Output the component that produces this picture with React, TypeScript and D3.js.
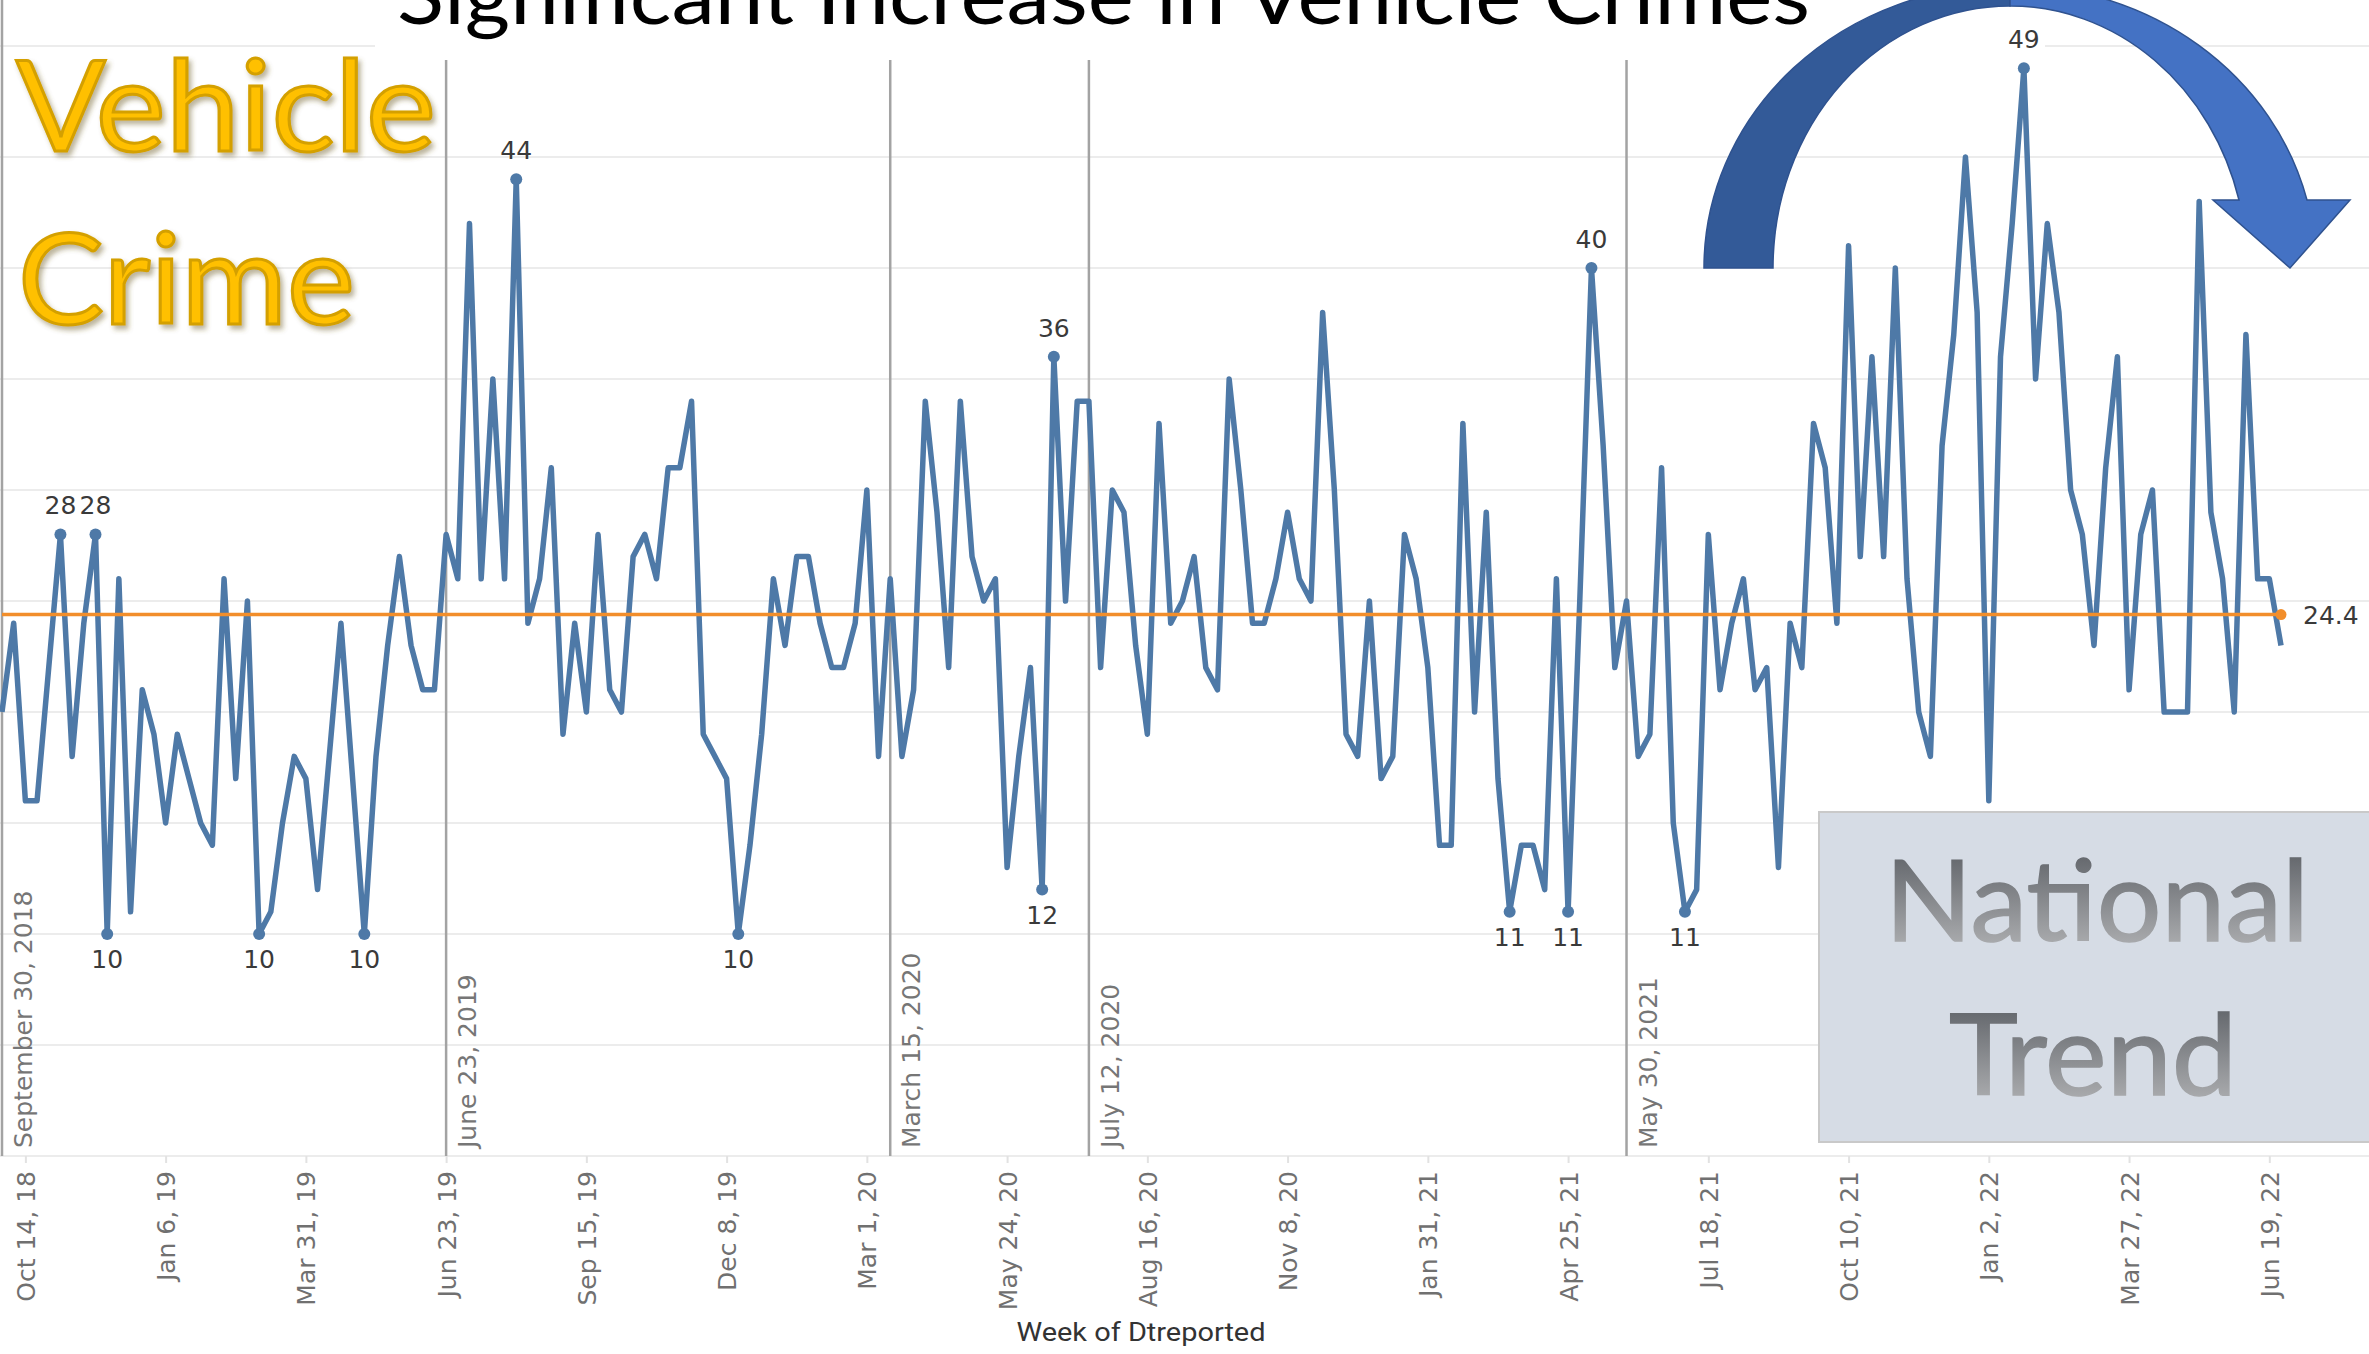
import React, { useRef, useEffect } from 'react';
import * as d3 from 'd3';

// weekly counts, first week = Sep 30 2018
const FIRST_WEEK = '2018-09-30';
const WEEKLY_COUNTS = [
  20, 24, 16, 16, 22, 28, 18, 24, 28, 10,
  26, 11, 21, 19, 15, 19, 17, 15, 14, 26,
  17, 25, 10, 11, 15, 18, 17, 12, 18, 24,
  17, 10, 18, 23, 27, 23, 21, 21, 28, 26,
  42, 26, 35, 26, 44, 24, 26, 31, 19, 24,
  20, 28, 21, 20, 27, 28, 26, 31, 31, 34,
  19, 18, 17, 10, 14, 19, 26, 23, 27, 27,
  24, 22, 22, 24, 30, 18, 26, 18, 21, 34,
  29, 22, 34, 27, 25, 26, 13, 18, 22, 12,
  36, 25, 34, 34, 22, 30, 29, 23, 19, 33,
  24, 25, 27, 22, 21, 35, 30, 24, 24, 26,
  29, 26, 25, 38, 30, 19, 18, 25, 17, 18,
  28, 26, 22, 14, 14, 33, 20, 29, 17, 11,
  14, 14, 12, 26, 11, 25, 40, 32, 22, 25,
  18, 19, 31, 15, 11, 12, 28, 21, 24, 26,
  21, 22, 13, 24, 22, 33, 31, 24, 41, 27,
  36, 27, 40, 26, 20, 18, 32, 37, 45, 38,
  16, 36, 42, 49, 35, 42, 38, 30, 28, 23,
  31, 36, 21, 28, 30, 20, 20, 20, 43, 29,
  26, 20, 37, 26, 26, 23,
];

const EVENT_DATES = ['2018-09-30', '2019-06-23', '2020-03-15', '2020-07-12', '2021-05-30'];
const EVENT_LABELS = ['September 30, 2018', 'June 23, 2019', 'March 15, 2020', 'July 12, 2020', 'May 30, 2021'];

const TICK_DATES = [
  '2018-10-14', '2019-01-06', '2019-03-31', '2019-06-23', '2019-09-15', '2019-12-08',
  '2020-03-01', '2020-05-24', '2020-08-16', '2020-11-08', '2021-01-31', '2021-04-25',
  '2021-07-18', '2021-10-10', '2022-01-02', '2022-03-27', '2022-06-19',
];

const Y_TICKS = [0, 5, 10, 15, 20, 25, 30, 35, 40, 45, 50];

const TITLE = 'Significant Increase in Vehicle Crimes';
const X_TITLE = 'Week of Dtreported';
const CORNER_WORDS = ['Vehicle', 'Crime'];
const BOX_WORDS = ['National', 'Trend'];

const App = () => {
  const svgRef = useRef<SVGSVGElement>(null);

  useEffect(() => {
    const width = 2369;
    const height = 1354;
    const svg = d3.select(svgRef.current);
    svg.selectAll('*').remove();
    svg.attr('width', width).attr('height', height);

    const parse = d3.utcParse('%Y-%m-%d');
    const start = parse(FIRST_WEEK) as Date;
    const data = WEEKLY_COUNTS.map((v, i) => ({ date: d3.utcDay.offset(start, 7 * i), value: v }));

    const x = d3
      .scaleUtc()
      .domain(d3.extent(data, (d) => d.date) as [Date, Date])
      .range([2, 2281]);
    const y = d3.scaleLinear().domain([0, 50]).range([1156, 46]);

    const defs = svg.append('defs');
    const grey = defs
      .append('linearGradient')
      .attr('id', 'greyText')
      .attr('x1', 0).attr('y1', 0).attr('x2', 0).attr('y2', 1);
    grey.append('stop').attr('offset', '0%').attr('stop-color', '#50545a');
    grey.append('stop').attr('offset', '100%').attr('stop-color', '#b9babc');

    const shadow = defs.append('filter').attr('id', 'goldShadow').attr('x', '-10%').attr('y', '-10%').attr('width', '130%').attr('height', '140%');
    shadow
      .append('feDropShadow')
      .attr('dx', 3).attr('dy', 4).attr('stdDeviation', 2.5)
      .attr('flood-color', '#6b5a20').attr('flood-opacity', 0.45);

    // gridlines
    svg
      .append('g')
      .selectAll('line')
      .data(Y_TICKS)
      .join('line')
      .attr('x1', 0)
      .attr('x2', width)
      .attr('y1', (d) => y(d))
      .attr('y2', (d) => y(d))
      .attr('stroke', '#ececec')
      .attr('stroke-width', 2);

    // x axis
    const tickDates = TICK_DATES.map((d) => parse(d) as Date);
    const xAxis = d3
      .axisBottom(x)
      .tickValues(tickDates)
      .tickSize(7)
      .tickFormat((d) => d3.utcFormat('%b %-d, %y')(d as Date));
    const gx = svg.append('g').attr('transform', `translate(0,${y(0)})`).call(xAxis);
    gx.select('.domain').remove();
    gx.selectAll('.tick line').attr('stroke', '#e2e2e2').attr('stroke-width', 2);
    gx.selectAll('.tick text')
      .attr('transform', 'rotate(-90)')
      .attr('x', -15)
      .attr('y', 0)
      .attr('dy', '0.36em')
      .style('text-anchor', 'end')
      .style('font-family', '"DejaVu Sans", Verdana, sans-serif')
      .style('font-size', '25px')
      .style('fill', '#707070');

    svg
      .append('text')
      .attr('x', 1141)
      .attr('y', 1341)
      .attr('text-anchor', 'middle')
      .attr('textLength', 249)
      .attr('lengthAdjust', 'spacingAndGlyphs')
      .style('font-family', '"Liberation Sans Narrow", Roboto, sans-serif')
      .style('font-size', '26px')
      .style('fill', '#333')
      .text(X_TITLE);

    // event reference lines
    const events = EVENT_DATES.map((d, i) => ({ date: parse(d) as Date, label: EVENT_LABELS[i] }));
    const ev = svg.append('g');
    ev.selectAll('line')
      .data(events)
      .join('line')
      .attr('x1', (d) => x(d.date))
      .attr('x2', (d) => x(d.date))
      .attr('y1', 0)
      .attr('y2', y(0))
      .attr('stroke', '#a3a3a3')
      .attr('stroke-width', 2.5);
    ev.selectAll('text')
      .data(events)
      .join('text')
      .attr('transform', (d) => `translate(${x(d.date) + 30},1148) rotate(-90)`)
      .style('font-family', '"DejaVu Sans", Verdana, sans-serif')
      .style('font-size', '25px')
      .style('fill', '#767676')
      .text((d) => d.label);

    // title box (top is cropped off)
    svg.append('rect').attr('x', 375).attr('y', 0).attr('width', 1670).attr('height', 60).attr('fill', '#fff');
    svg
      .append('text')
      .attr('x', 397)
      .attr('y', 24)
      .attr('textLength', 1413)
      .attr('lengthAdjust', 'spacingAndGlyphs')
      .style('font-family', 'Lato, "Open Sans", sans-serif')
      .style('font-size', '80px')
      .style('fill', '#000')
      .text(TITLE);

    // curved arrow
    const arrow = svg.append('g').attr('stroke', '#2f528f').attr('stroke-width', 1.5);
    arrow
      .append('path')
      .attr('d', 'M1704,268 A306,283 0 0 1 2010,-15 L2010,6 A237,262 0 0 0 1773,268 Z')
      .attr('fill', '#335a98');
    arrow
      .append('path')
      .attr('d', 'M2010,-15 A306,283 0 0 1 2307,200 L2350,200 L2290,268 L2213,200 L2239,200 A237,262 0 0 0 2010,6 Z')
      .attr('fill', '#4472c4');

    // series line
    const line = d3
      .line<{ date: Date; value: number }>()
      .x((d) => x(d.date))
      .y((d) => y(d.value));
    svg
      .append('path')
      .datum(data)
      .attr('d', line)
      .attr('fill', 'none')
      .attr('stroke', '#4e79a7')
      .attr('stroke-width', 5.5)
      .attr('stroke-linejoin', 'round');

    // min / max per period between events
    const bounds = events.map((e) => e.date);
    const groups = d3.group(data, (d) => d3.bisectRight(bounds, d.date) - 1);
    const marked: { date: Date; value: number; top: boolean }[] = [];
    groups.forEach((arr) => {
      const mx = d3.max(arr, (d) => d.value);
      const mn = d3.min(arr, (d) => d.value);
      arr.forEach((d) => {
        if (d.value === mx) marked.push({ ...d, top: true });
        else if (d.value === mn) marked.push({ ...d, top: false });
      });
    });
    const mk = svg.append('g');
    mk.selectAll('circle')
      .data(marked)
      .join('circle')
      .attr('cx', (d) => x(d.date))
      .attr('cy', (d) => y(d.value))
      .attr('r', 6)
      .attr('fill', '#4e79a7');
    mk.selectAll('text')
      .data(marked)
      .join('text')
      .attr('x', (d) => x(d.date))
      .attr('y', (d) => y(d.value) + (d.top ? -20 : 34))
      .attr('text-anchor', 'middle')
      .style('font-family', '"DejaVu Sans", Verdana, sans-serif')
      .style('font-size', '25px')
      .style('fill', '#3a3a3a')
      .text((d) => d.value);

    // average reference line
    const avg = d3.mean(data, (d) => d.value) as number;
    const last = data[data.length - 1].date;
    svg
      .append('line')
      .attr('x1', x(data[0].date))
      .attr('x2', x(last))
      .attr('y1', y(avg))
      .attr('y2', y(avg))
      .attr('stroke', '#f28e2b')
      .attr('stroke-width', 3.5);
    svg.append('circle').attr('cx', x(last)).attr('cy', y(avg)).attr('r', 5.5).attr('fill', '#f28e2b');
    svg
      .append('text')
      .attr('x', x(last) + 22)
      .attr('y', y(avg))
      .attr('dy', '0.36em')
      .style('font-family', '"DejaVu Sans", Verdana, sans-serif')
      .style('font-size', '25px')
      .style('fill', '#3a3a3a')
      .text(d3.format('.1f')(avg));

    // big gold caption
    const gold = svg.append('g').attr('filter', 'url(#goldShadow)');
    gold.selectAll('text')
      .data(CORNER_WORDS)
      .join('text')
      .attr('x', (d, i) => (i === 0 ? 16 : 18))
      .attr('y', (d, i) => (i === 0 ? 151 : 324))
      .attr('textLength', (d, i) => (i === 0 ? 420 : 337))
      .attr('lengthAdjust', 'spacingAndGlyphs')
      .style('font-family', 'Lato, "Open Sans", sans-serif')
      .style('font-size', '127px')
      .style('fill', '#ffc000')
      .style('stroke', '#d4a000')
      .style('stroke-width', 3)
      .text((d) => d);

    // national trend box
    svg
      .append('rect')
      .attr('x', 1819)
      .attr('y', 812)
      .attr('width', 600)
      .attr('height', 330)
      .attr('fill', '#d6dce5')
      .attr('stroke', '#c9c9c9')
      .attr('stroke-width', 2);
    svg
      .append('g')
      .selectAll('text')
      .data(BOX_WORDS)
      .join('text')
      .attr('x', (d, i) => (i === 0 ? 2097 : 2093))
      .attr('y', (d, i) => (i === 0 ? 941 : 1095))
      .attr('text-anchor', 'middle')
      .attr('textLength', (d, i) => (i === 0 ? 424 : 288))
      .attr('lengthAdjust', 'spacingAndGlyphs')
      .style('font-family', 'Lato, "Open Sans", sans-serif')
      .style('font-size', '113px')
      .style('fill', 'url(#greyText)')
      .style('stroke', 'url(#greyText)')
      .style('stroke-width', 1.5)
      .text((d) => d);
  }, []);

  return <svg ref={svgRef} style={{ position: 'absolute', left: 0, top: 0, background: '#fff' }}></svg>;
};

export default App;
